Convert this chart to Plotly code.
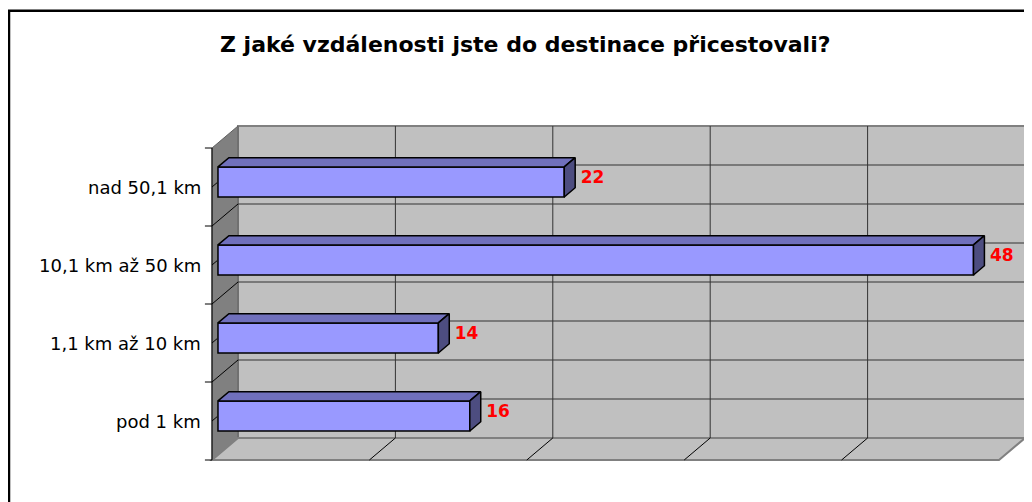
import plotly.graph_objects as go

# data
categories = ["pod 1 km", "1,1 km až 10 km", "10,1 km až 50 km", "nad 50,1 km"]
values = [16, 14, 48, 22]
x_ticks = [0, 10, 20, 30, 40, 50]
title = "Z jaké vzdálenosti jste do destinace přicestovali?"

# fake 3d look (depth offsets in axis units)
DEPTH_X = 1.652
DEPTH_Y = 0.282
BAR_FRONT = 0.23
BAR_BACK = 0.65
BAR_W = 0.385
X_MAX = x_ticks[-1]
Y_LO, Y_HI = -0.5, len(categories) - 0.5

W, H = 1024, 494          # page body has an 8px margin
PX_X = 15.74              # px per value unit
PX_Y = 78                 # px per category
X0_PX, Y0_PX = 204, 413   # where value 0 / first category sit

FONT = "DejaVu Sans, Arial, sans-serif"
GRID = "#333333"
EDGE = "#808080"


def dx(d):
	return DEPTH_X * d


def dy(d):
	return DEPTH_Y * d


fig = go.Figure()
shapes = []

def line(x0, y0, x1, y1, color, width=1):
	shapes.append(dict(type="line", xref="x", yref="y", x0=x0, y0=y0, x1=x1, y1=y1,
		line=dict(color=color, width=width), layer="below"))

# walls
shapes.append(dict(type="rect", xref="x", yref="y", x0=dx(1), x1=X_MAX + dx(1),
	y0=Y_LO + dy(1), y1=Y_HI + dy(1), fillcolor="#C0C0C0",
	line=dict(color=EDGE, width=2), layer="below"))
shapes.append(dict(type="path", xref="x", yref="y",
	path=f"M 0,{Y_LO} L {dx(1)},{Y_LO + dy(1)} L {dx(1)},{Y_HI + dy(1)} L 0,{Y_HI} Z",
	fillcolor="#808080", line=dict(color="#606060", width=1), layer="below"))
shapes.append(dict(type="path", xref="x", yref="y",
	path=f"M 0,{Y_LO} L {X_MAX},{Y_LO} L {X_MAX + dx(1)},{Y_LO + dy(1)} L {dx(1)},{Y_LO + dy(1)} Z",
	fillcolor="#C0C0C0", line=dict(color=EDGE, width=2), layer="below"))

# gridlines
for t in x_ticks[1:-1]:
	line(t + dx(1), Y_LO + dy(1), t + dx(1), Y_HI + dy(1), GRID)
	line(t, Y_LO, t + dx(1), Y_LO + dy(1), "#000000")
k = Y_LO + 0.5
while k < Y_HI - 0.01:
	line(dx(1), k + dy(1), X_MAX + dx(1), k + dy(1), GRID)
	k += 0.5
for b in range(len(categories) + 1):
	yb = Y_LO + b
	if 0 < b < len(categories):
		line(0, yb, dx(1), yb + dy(1), "#000000")
	line(-0.45, yb, 0, yb, "#000000")
for i in range(len(categories)):
	line(0, i, dx(0.2), i + dy(0.2), "#000000")
line(0, Y_LO, 0, Y_HI, "#000000")

# bars
ys = [i + dy(BAR_FRONT) for i in range(len(categories))]
fig.add_trace(go.Bar(y=ys, x=values, base=dx(BAR_FRONT), orientation="h", width=BAR_W,
	marker=dict(color="#9999FF", line=dict(color="#000000", width=1.5)), hoverinfo="skip"))

ddx = dx(BAR_BACK - BAR_FRONT)
ddy = dy(BAR_BACK - BAR_FRONT)
for yc, v in zip(ys, values):
	x0 = dx(BAR_FRONT)
	x1 = v + dx(BAR_FRONT)
	yt = yc + BAR_W / 2
	yb = yc - BAR_W / 2
	fig.add_trace(go.Scatter(x=[x0, x0 + ddx, x1 + ddx, x1, x0], y=[yt, yt + ddy, yt + ddy, yt, yt],
		fill="toself", fillcolor="#7070BC", mode="lines", line=dict(color="#000000", width=1.5),
		hoverinfo="skip"))
	fig.add_trace(go.Scatter(x=[x1, x1 + ddx, x1 + ddx, x1, x1], y=[yt, yt + ddy, yb + ddy, yb, yt],
		fill="toself", fillcolor="#4D4D80", mode="lines", line=dict(color="#000000", width=1.5),
		hoverinfo="skip"))

# value labels
fig.add_trace(go.Scatter(
	x=[v + dx(BAR_BACK) + 0.35 for v in values],
	y=[i + dy(BAR_FRONT) + 0.04 for i in range(len(categories))],
	text=[str(v) for v in values], mode="text", textposition="middle right",
	textfont=dict(family=FONT, size=17, color="#FF0000", weight="bold"), hoverinfo="skip"))

annotations = []
for i, c in enumerate(categories):
	annotations.append(dict(x=-0.6, y=i, xref="x", yref="y", text=c, showarrow=False,
		xanchor="right", yanchor="middle", font=dict(family=FONT, size=18, color="#000000")))
annotations.append(dict(x=517 / W, y=1 - 37 / H, xref="paper", yref="paper", text="<b>" + title + "</b>",
	showarrow=False, xanchor="center", yanchor="middle", font=dict(family=FONT, size=22, color="#000000")))

# outer frame
shapes.append(dict(type="rect", xref="paper", yref="paper", x0=1 / W, x1=1.1, y0=-0.1, y1=1 - 2.7 / H,
	line=dict(color="#000000", width=2.5), layer="above"))

fig.update_layout(
	width=W, height=H, margin=dict(l=0, r=0, t=0, b=0),
	paper_bgcolor="#FFFFFF", plot_bgcolor="#FFFFFF", showlegend=False,
	xaxis=dict(range=[-X0_PX / PX_X, (W - X0_PX) / PX_X], visible=False, fixedrange=True),
	yaxis=dict(range=[(Y0_PX - H) / PX_Y, Y0_PX / PX_Y], visible=False, fixedrange=True),
	shapes=shapes, annotations=annotations,
)
fig.write_html("out.html")
